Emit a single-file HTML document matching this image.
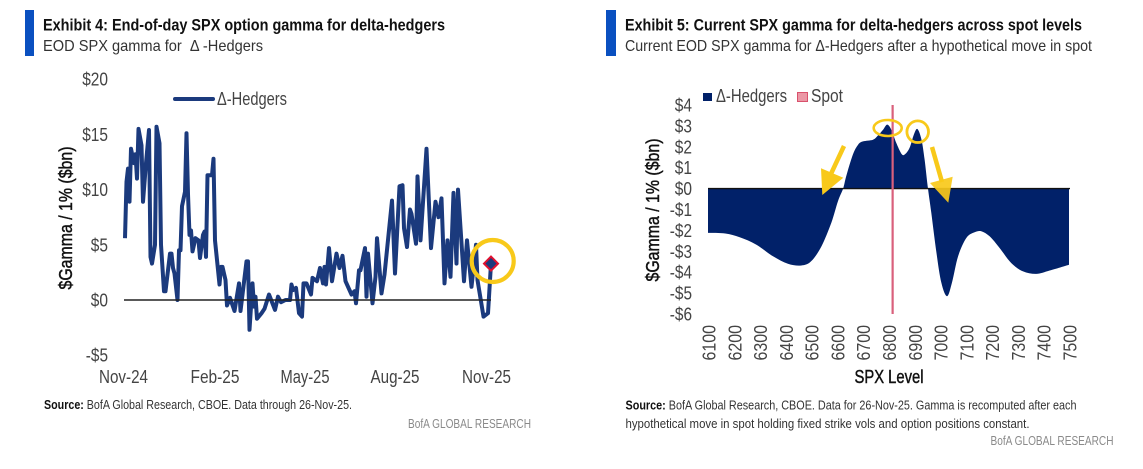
<!DOCTYPE html>
<html lang="en">
<head>
<meta charset="utf-8">
<title>SPX gamma exhibits</title>
<style>
html,body{margin:0;padding:0;background:#fff;width:1143px;height:469px;overflow:hidden}
svg{display:block;font-family:"Liberation Sans Narrow","Liberation Sans",sans-serif}
text{fill:#333}
.t{font-size:16.5px;font-weight:bold;fill:#111}
.s{font-size:16px;fill:#333}
.src{font-size:12.5px;fill:#333}
.brand{font-size:12.5px;fill:#8a8a8a}
.tick{font-size:18px;fill:#444}
.rot{font-size:18.5px;fill:#444}
.axt{font-size:18.5px;fill:#111;stroke:#111;stroke-width:.45px}
</style>
</head>
<body>
<svg id="root" width="1143" height="469" viewBox="0 0 1143 469" xmlns="http://www.w3.org/2000/svg">
  <rect x="25" y="10" width="9" height="46" fill="#0a50c0"/>
  <text class="t" x="43" y="30.5" textLength="402" lengthAdjust="spacingAndGlyphs">Exhibit 4: End-of-day SPX option gamma for delta-hedgers</text>
  <text class="s" x="43" y="51" textLength="220" lengthAdjust="spacingAndGlyphs" xml:space="preserve">EOD SPX gamma for  Δ -Hedgers</text>
  <text class="axt" transform="translate(72,218) rotate(-90)" text-anchor="middle" textLength="143" lengthAdjust="spacingAndGlyphs">$Gamma / 1% ($bn)</text>
  <g id="leftTicks"></g>
  <g id="leftPlot"></g>
  <line x1="175" y1="99" x2="213" y2="99" stroke="#1b3a7d" stroke-width="4" stroke-linecap="round"/>
  <text class="tick" x="217" y="105" textLength="70" lengthAdjust="spacingAndGlyphs">Δ-Hedgers</text>
  <text class="src" x="44" y="409" textLength="308" lengthAdjust="spacingAndGlyphs"><tspan font-weight="bold" fill="#111">Source:</tspan> BofA Global Research, CBOE. Data through 26-Nov-25.</text>
  <text class="brand" x="408" y="428" textLength="123" lengthAdjust="spacingAndGlyphs">BofA GLOBAL RESEARCH</text>

  <rect x="606" y="10" width="10" height="46" fill="#0a50c0"/>
  <text class="t" x="625" y="30.5" textLength="457" lengthAdjust="spacingAndGlyphs">Exhibit 5: Current SPX gamma for delta-hedgers across spot levels</text>
  <text class="s" x="625" y="51" textLength="467" lengthAdjust="spacingAndGlyphs">Current EOD SPX gamma for Δ-Hedgers after a hypothetical move in spot</text>
  <text class="axt" transform="translate(659,210) rotate(-90)" text-anchor="middle" textLength="143" lengthAdjust="spacingAndGlyphs">$Gamma / 1% ($bn)</text>
  <g id="rightTicks"></g>
  <g id="rightPlot"></g>
  <rect x="703" y="93" width="9" height="8" fill="#012169"/>
  <text class="tick" x="716" y="102" textLength="71" lengthAdjust="spacingAndGlyphs">Δ-Hedgers</text>
  <rect x="797.5" y="92.5" width="10" height="9" fill="#eb97a5" stroke="#d9516c"/>
  <text class="tick" x="811" y="102" textLength="32" lengthAdjust="spacingAndGlyphs">Spot</text>
  <text class="axt" x="889" y="383" text-anchor="middle" textLength="69" lengthAdjust="spacingAndGlyphs">SPX Level</text>
  <text class="src" x="625.5" y="409.5" textLength="451" lengthAdjust="spacingAndGlyphs"><tspan font-weight="bold" fill="#111">Source:</tspan> BofA Global Research, CBOE. Data for 26-Nov-25. Gamma is recomputed after each</text>
  <text class="src" x="625.5" y="428" textLength="404" lengthAdjust="spacingAndGlyphs">hypothetical move in spot holding fixed strike vols and option positions constant.</text>
  <text class="brand" x="990.5" y="445" textLength="123" lengthAdjust="spacingAndGlyphs">BofA GLOBAL RESEARCH</text>

  <g fill="none" stroke="#f8c91a">
    <ellipse cx="887.7" cy="128" rx="14" ry="8" stroke-width="2.6"/>
    <circle cx="917.7" cy="131.7" r="10.8" stroke-width="2.8"/>
    <line x1="844" y1="146" x2="830" y2="176" stroke-width="4.5"/>
    <polygon points="821,168.3 843.3,177.7 822.3,195" fill="#f8c91a" stroke="none"/>
    <line x1="932" y1="147" x2="942" y2="182" stroke-width="4.5"/>
    <polygon points="930,183 952.7,176.7 948.3,202.7" fill="#f8c91a" fill-opacity=".92" stroke="none"/>
  </g>
</svg>
<script>
// ---- Exhibit 4 data ----
var tradingDays = [0,1,2,3,4,6,7,8,9,11,12,14,16,17,18,20,21,23,24,26,27,30,31,32,33,35,36,37,38,40,41,42,43,44,45,47,49,50,52,53,54,55,58,59,60,63,64,65,67,68,70,73,76,77,81,82,83,85,86,87,88,91,93,96,100,102,104,107,110,111,112,114,116,118,119,121,124,125,128,130,132,133,134,136,138,141,143,145,147,151,153,154,156,157,160,161,162,165,167,168,171,173,178,180,183,185,186,188,190,191,194,195,197,201,204,207,209,211,213,215,217,219,221,222,226,228,231,234,235,239,242,244];
var gammaBn = [5.6,10.7,11.9,8.9,13.7,12.4,13.2,11,15.5,14,8.9,12.4,15.4,3.9,3.3,5,15.7,14.2,5,0.8,0.8,4.2,4.2,2.9,2.4,0,4.5,4.5,8.5,9.8,15.1,9.6,5.9,6.3,4.4,5.6,5.4,3.8,5.9,6.2,3.9,11.3,11.3,12.8,5.4,1.4,3,3,1.8,-0.5,0.2,-1,1.5,-1,3.5,3.5,-2.7,1.5,-0.6,0.3,-1.7,-1.2,-0.8,0.5,-0.9,0.3,-0.2,0,0,1.4,0.9,1.1,-1.2,-1.5,1.5,1.5,0.5,2,1.7,2.9,1.5,3,1.4,4.7,1.7,4.2,2.9,4,1.7,0.5,0.8,-0.3,2.7,2.7,4.7,0.3,4.2,-0.3,2.1,5.6,0.6,2.3,9,2.4,10.3,10.4,6.5,4.8,8.2,7.8,5.1,11.2,5.4,13.7,4.7,8.9,7.5,9.2,1.5,5.4,2.1,9.7,3.3,10,1.7,5.4,1.2,5,1.8,-1.5,-1.2,3.3];
var leftYTicks = [20,15,10,5,0,-5];
var leftYLabels = ["$20","$15","$10","$5","$0","-$5"];
var leftXLabels = ["Nov-24","Feb-25","May-25","Aug-25","Nov-25"];
var leftXLabelDays = [-1,60,120,180,241];

// ---- Exhibit 5 data ----
var spxLevels = [6100,6167,6223,6287,6352,6410,6462,6500,6540,6578,6604,6624,6636,6662,6682,6701,6740,6759,6779,6795,6811,6830,6850,6863,6882,6898,6912,6928,6940,6953,6966,6986,7005,7027,7046,7070,7102,7134,7160,7192,7231,7276,7322,7373,7425,7500];
var spotGamma = [-2.12,-2.15,-2.33,-2.68,-3.24,-3.6,-3.68,-3.48,-2.76,-1.64,-0.6,0,0.59,1.63,2.1,2.26,2.34,2.54,2.82,3.06,2.82,2.19,1.67,1.63,1.95,2.58,2.85,2.34,1.39,0,-1.16,-3.08,-4.51,-5.15,-4.51,-3.24,-2.36,-2.09,-2.04,-2.28,-2.84,-3.56,-3.96,-4.08,-3.92,-3.64];
var rightYTicks = [4,3,2,1,0,-1,-2,-3,-4,-5,-6];
var rightYLabels = ["$4","$3","$2","$1","$0","-$1","-$2","-$3","-$4","-$5","-$6"];
var rightXTicks = [6100,6200,6300,6400,6500,6600,6700,6800,6900,7000,7100,7200,7300,7400,7500];
var spotLevel = [6816];

var NS = "http://www.w3.org/2000/svg";
function make(tag, parent, attrs) {
  var el = document.createElementNS(NS, tag);
  for (var k in attrs) el.setAttribute(k, attrs[k]);
  parent.appendChild(el);
  return el;
}
function xL(d) { return 125 + (d / 244) * 366; }
function yL(v) { return 300 - v * 11.04; }
function xR(l) { return 708 + ((l - 6100) / 1400) * 361; }
function yR(v) { return 188.6 - v * 20.9; }
function tickWidth(label) {
  var w = 0;
  for (var i = 0; i < label.length; i++) w += label[i] === "-" ? 5 : 8.6;
  return w;
}

var leftTicks = document.getElementById("leftTicks");
var leftPlot = document.getElementById("leftPlot");
var rightTicks = document.getElementById("rightTicks");
var rightPlot = document.getElementById("rightPlot");

// left y ticks
leftYTicks.forEach(function (v, i) {
  var el = make("text", leftTicks, {"class": "tick", x: 108, y: yL(v) + 6.5, "text-anchor": "end", textLength: tickWidth(leftYLabels[i]), lengthAdjust: "spacingAndGlyphs"});
  el.textContent = leftYLabels[i];
  
  
});
// left x ticks
leftXLabels.forEach(function (lab, i) {
  var el = make("text", leftTicks, {"class": "tick", x: xL(leftXLabelDays[i]), y: 383, "text-anchor": "middle", textLength: 49, lengthAdjust: "spacingAndGlyphs"});
  el.textContent = lab;
  
  
});
// left series
var linePts = tradingDays.map(function (d, i) { return xL(d).toFixed(1) + "," + yL(gammaBn[i]).toFixed(1); }).join(" ");
var gammaLine = make("polyline", leftPlot, {points: linePts, fill: "none", stroke: "#1b3a7d", "stroke-width": 4, "stroke-linejoin": "round"});


var zeroL = make("line", leftPlot, {x1: xL(0) - 1, x2: xL(tradingDays[tradingDays.length - 1]), y1: yL(0), y2: yL(0), stroke: "#222", "stroke-width": 1.4});


var lastX = xL(tradingDays[tradingDays.length - 1]);
var lastY = yL(gammaBn[gammaBn.length - 1]);
var ring = make("circle", leftPlot, {cx: lastX + 1.7, cy: lastY - 2.6, r: 21, fill: "none", stroke: "#f8c91a", "stroke-width": 4.2});


var dPts = [[lastX, lastY - 7], [lastX + 7, lastY], [lastX, lastY + 7], [lastX - 7, lastY]].map(function (p) { return p.join(","); }).join(" ");
var diamond = make("polygon", leftPlot, {points: dPts, fill: "#1b3a7d", stroke: "#e0102f", "stroke-width": 2});



// right y ticks
rightYTicks.forEach(function (v, i) {
  var el = make("text", rightTicks, {"class": "tick", x: 692, y: yR(v) + 6.5, "text-anchor": "end", textLength: tickWidth(rightYLabels[i]), lengthAdjust: "spacingAndGlyphs"});
  el.textContent = rightYLabels[i];
  
  
});
// right x ticks
rightXTicks.forEach(function (v) {
  var el = make("text", rightTicks, {"class": "rot", transform: "translate(" + (xR(v) + 7.5) + ",360.5) rotate(-90)", textLength: 35.5, lengthAdjust: "spacingAndGlyphs"});
  el.textContent = String(v);
  
  
});
// right area: smooth curve through the read values
var pts = spxLevels.map(function (l, i) { return [xR(l), yR(spotGamma[i])]; });
var d = "M" + xR(spxLevels[0]).toFixed(1) + "," + yR(0).toFixed(1) + "L" + pts[0][0].toFixed(1) + "," + pts[0][1].toFixed(1);
for (var i = 0; i < pts.length - 1; i++) {
  var p0 = pts[Math.max(i - 1, 0)], p1 = pts[i], p2 = pts[i + 1], p3 = pts[Math.min(i + 2, pts.length - 1)];
  d += "C" + (p1[0] + (p2[0] - p0[0]) / 6).toFixed(1) + "," + (p1[1] + (p2[1] - p0[1]) / 6).toFixed(1) + " " +
       (p2[0] - (p3[0] - p1[0]) / 6).toFixed(1) + "," + (p2[1] - (p3[1] - p1[1]) / 6).toFixed(1) + " " +
       p2[0].toFixed(1) + "," + p2[1].toFixed(1);
}
d += "L" + pts[pts.length - 1][0].toFixed(1) + "," + yR(0).toFixed(1) + "Z";
var area = make("path", rightPlot, {d: d, fill: "#012169"});


var zeroR = make("line", rightPlot, {x1: xR(6100), x2: xR(7500) + 1, y1: yR(0), y2: yR(0), stroke: "#111", "stroke-width": 1.4});


var spot = make("line", rightPlot, {x1: xR(spotLevel[0]), x2: xR(spotLevel[0]), y1: yR(4), y2: yR(-6), stroke: "#d9607c", "stroke-width": 2.2});


</script>
</body>
</html>
